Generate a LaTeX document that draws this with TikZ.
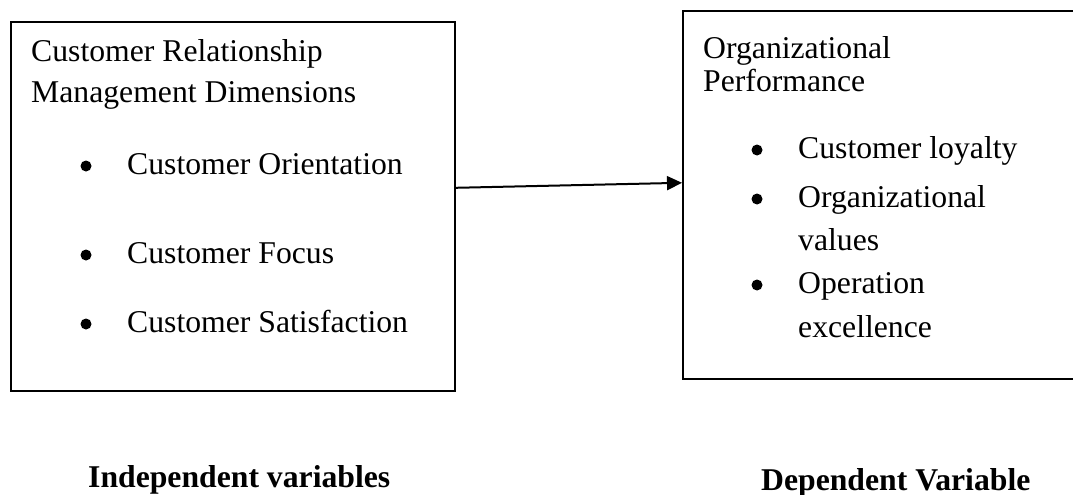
\documentclass[tikz,border=0pt]{standalone}
\usepackage{fontspec}
\setmainfont{Liberation Serif}
\usetikzlibrary{arrows.meta}
\tikzstyle{box} = [rectangle, draw=black, line width=1.6pt, anchor=north west, inner sep=0pt]
\tikzstyle{txt} = [anchor=base west, inner sep=0pt, font=\fontsize{31.7}{38}\selectfont]
\tikzstyle{dot} = [circle, fill=black, inner sep=0pt, minimum size=11pt]
\tikzstyle{varname} = [anchor=base west, inner sep=0pt, font=\fontsize{31.7}{38}\selectfont\bfseries]
\tikzstyle{arrow} = [line width=2pt, -{Triangle[length=15pt,width=14pt]}]

\begin{document}
\begin{tikzpicture}[x=1pt, y=-1pt]
\clip (0,0) rectangle (1073,495);
\fill[white] (0,0) rectangle (1073,495);
% boxes
\node (1)[box, minimum width=444pt, minimum height=369pt] at (10,21){};
\node (2)[box, minimum width=430pt, minimum height=368pt] at (682,10){};

% left box
\node (1a)[txt] at (31,62){Customer Relationship};
\node (1b)[txt] at (31,102){Management Dimensions};
\node (1c)[dot] at (86,166){};
\node (1d)[txt] at (127,174){Customer Orientation};
\node (1e)[dot] at (86,255){};
\node (1f)[txt] at (127,263){Customer Focus};
\node (1g)[dot] at (86,324){};
\node (1h)[txt] at (127,332){Customer Satisfaction};

% right box
\node (2a)[txt] at (703,59){Organizational};
\node (2b)[txt] at (703,92){Performance};
\node (2c)[dot] at (757,150){};
\node (2d)[txt] at (798,158){Customer loyalty};
\node (2e)[dot] at (757,199){};
\node (2f)[txt] at (798,207){Organizational};
\node (2g)[txt] at (798,250){values};
\node (2h)[dot] at (757,285){};
\node (2i)[txt] at (798,293){Operation};
\node (2j)[txt] at (798,337){excellence};

% variable names
\node (3)[varname] at (88,487){Independent variables};
\node (4)[varname] at (761,490){Dependent Variable};

\draw [arrow]([yshift=18.5pt]1.east) -- ([yshift=12pt]2.west);
\end{tikzpicture}
\end{document}
